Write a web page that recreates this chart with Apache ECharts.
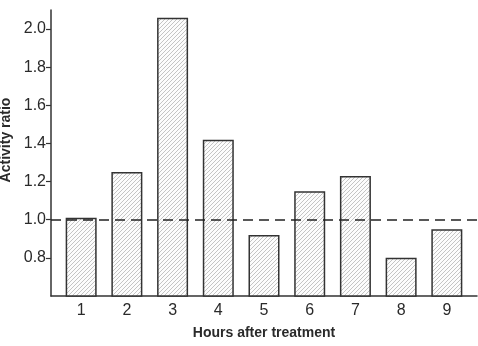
<!DOCTYPE html>
<html>
<head>
<meta charset="utf-8">
<script src="https://cdn.jsdelivr.net/npm/echarts@6/dist/echarts.min.js"></script>
<style>
  html, body { margin: 0; padding: 0; background: #fff; }
  #chart { width: 478px; height: 346px; }
</style>
</head>
<body>
<div id="chart"></div>
<script>
// data
const hours = [1, 2, 3, 4, 5, 6, 7, 8, 9];
const activityRatio = [1.01, 1.25, 2.06, 1.42, 0.92, 1.15, 1.23, 0.80, 0.95];
const yTicks = [0.8, 1.0, 1.2, 1.4, 1.6, 1.8, 2.0];
const baseline = 1.0;

// hatch fill
const hatch = document.createElement('canvas');
hatch.width = 4;
hatch.height = 4;
const ctx = hatch.getContext('2d');
ctx.fillStyle = '#fcfcfc';
ctx.fillRect(0, 0, 4, 4);
ctx.strokeStyle = '#acacac';
ctx.lineWidth = 0.7;
ctx.beginPath();
ctx.moveTo(0, 4); ctx.lineTo(4, 0);
ctx.moveTo(-1, 1); ctx.lineTo(1, -1);
ctx.moveTo(3, 5); ctx.lineTo(5, 3);
ctx.stroke();

const axisColor = '#333';
const textColor = '#2a2a2a';

const chartInstance = echarts.init(document.getElementById('chart'));
chartInstance.setOption({
  animation: false,
  grid: {
    left: 51,
    right: 1,
    top: 10,
    bottom: 50,
    containLabel: false,
    outerBoundsMode: 'none'
  },
  xAxis: {
    type: 'value',
    min: 0.34,
    max: 9.66,
    name: 'Hours after treatment',
    nameLocation: 'middle',
    nameGap: 30,
    nameTextStyle: {
      fontFamily: 'Liberation Sans',
      fontWeight: 'bold',
      fontSize: 14,
      color: textColor
    },
    axisLine: { lineStyle: { color: axisColor, width: 1.5 } },
    axisTick: { show: false },
    splitLine: { show: false },
    axisLabel: {
      customValues: hours,
      margin: 7,
      fontFamily: 'Liberation Sans',
      fontSize: 16,
      color: textColor
    }
  },
  yAxis: {
    type: 'value',
    min: 0.6,
    max: 2.1,
    name: 'Activity ratio',
    nameLocation: 'middle',
    nameGap: 37,
    nameTextStyle: {
      fontFamily: 'Liberation Sans',
      fontWeight: 'bold',
      fontSize: 14,
      color: textColor,
      padding: [0, 0, 0, 26]
    },
    axisLine: { show: true, lineStyle: { color: axisColor, width: 1.5 } },
    axisTick: {
      show: true,
      customValues: yTicks,
      length: 5,
      lineStyle: { color: axisColor, width: 1.2 }
    },
    splitLine: { show: false },
    axisLabel: {
      customValues: yTicks,
      margin: 5,
      fontFamily: 'Liberation Sans',
      fontSize: 16,
      color: textColor,
      formatter: (v) => v.toFixed(1)
    }
  },
  series: [
    {
      type: 'bar',
      barWidth: 31,
      data: hours.map((h, i) => [h, activityRatio[i]]),
      itemStyle: {
        color: { image: hatch, repeat: 'repeat' },
        borderColor: '#333',
        borderWidth: 1.5
      },
      markLine: {
        symbol: 'none',
        silent: true,
        label: { show: false },
        lineStyle: { color: '#222', width: 1.5, type: [10, 6] },
        data: [{ yAxis: baseline }]
      }
    }
  ]
});
</script>
</body>
</html>
